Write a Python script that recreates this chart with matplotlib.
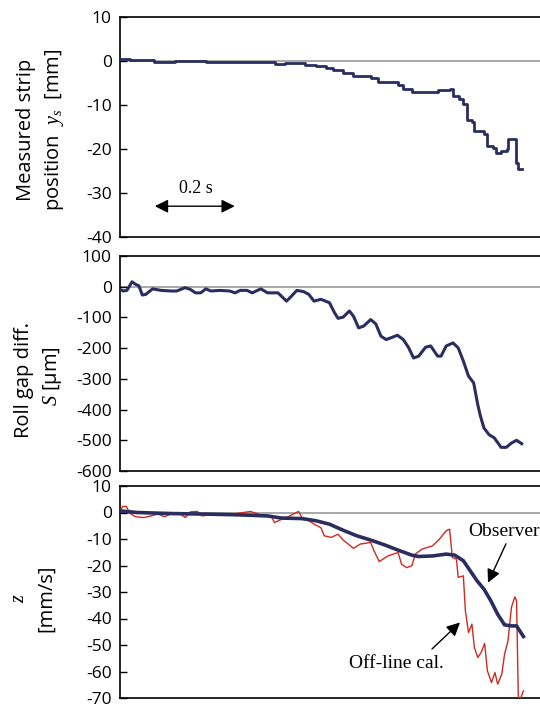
import numpy as np
import matplotlib
matplotlib.use("Agg")
import matplotlib.pyplot as plt

plt.rcParams['font.family'] = ['Open Sans', 'DejaVu Sans']
plt.rcParams['mathtext.fontset'] = 'custom'
plt.rcParams['mathtext.it'] = 'Liberation Serif:italic'
plt.rcParams['mathtext.rm'] = 'Liberation Serif'

# ---- data (time read in zoom-pixel units, converted to seconds below) ----
ys_zx = [350, 380, 450, 510, 575, 600, 700, 780, 800, 830, 870, 890, 920, 950, 970,
         1000, 1030, 1080, 1100, 1160, 1175, 1200, 1260, 1275, 1310, 1320, 1338,
         1350, 1360, 1375, 1380, 1410, 1420, 1435, 1445, 1460, 1478, 1480, 1500,
         1503, 1510, 1520]
ys_val = [0.4, 0.15, -0.15, 0.1, 0.1, -0.15, -0.15, -0.2, -0.75, -0.5, -0.4, -0.8,
          -1.1, -1.7, -2.1, -2.8, -3.4, -3.8, -4.8, -5.5, -6.3, -7.0, -7.0, -6.6,
          -6.3, -8.0, -8.7, -9.8, -13.4, -13.9, -15.9, -16.7, -19.3, -19.7, -20.8,
          -20.5, -20.1, -17.8, -17.8, -23.1, -24.5, -24.5]

s_zx = [350, 360, 370, 385, 395, 405, 415, 425, 445, 470, 500, 515, 540, 555, 570,
        585, 600, 615, 640, 670, 685, 700, 720, 735, 760, 780, 810, 825, 835, 850,
        865, 885, 900, 915, 935, 960, 975, 985, 1000, 1018, 1030, 1045, 1060, 1080,
        1095, 1110, 1125, 1140, 1158, 1175, 1190, 1205, 1220, 1240, 1255, 1275,
        1285, 1300, 1320, 1335, 1350, 1365, 1380, 1392, 1400, 1410, 1425, 1440,
        1460, 1475, 1490, 1505, 1520]
s_val = [-9, -14, -12, 16, 8, 3, -27, -25, -7, -12, -14, -14, -3, -9, -20, -20, -7,
         -14, -12, -14, -20, -12, -12, -20, -7, -20, -20, -36, -47, -30, -12, -16,
         -25, -47, -41, -52, -85, -103, -99, -79, -96, -134, -128, -107, -121, -161,
         -172, -166, -158, -172, -197, -232, -226, -197, -193, -226, -226, -193,
         -183, -199, -242, -291, -313, -384, -422, -460, -482, -492, -523, -523,
         -509, -500, -511]

obs_zx = [350, 400, 500, 600, 700, 780, 820, 880, 920, 960, 1000, 1040, 1080, 1120,
          1160, 1200, 1220, 1260, 1300, 1325, 1350, 1370, 1390, 1410, 1430, 1450,
          1470, 1490, 1505, 1525]
obs_val = [0.6, 0, -0.4, -0.6, -0.9, -1.3, -2.1, -2.3, -3.1, -4.4, -6.7, -8.8,
           -10.4, -12.2, -14.2, -16.1, -16.6, -16.4, -15.7, -16.1, -18.2, -22.0,
           -25.8, -28.9, -33.3, -38.4, -42.4, -42.8, -42.8, -46.8]

off_zx = [350, 358, 368, 380, 395, 420, 440, 460, 480, 500, 520, 540, 555, 575,
          590, 620, 650, 700, 730, 760, 790, 800, 815, 840, 870, 880, 900, 915,
          935, 945, 965, 985, 1000, 1030, 1050, 1080, 1090, 1105, 1130, 1160, 1170,
          1185, 1200, 1210, 1230, 1260, 1280, 1300, 1310, 1318, 1330, 1335, 1350,
          1356, 1365, 1375, 1382, 1392, 1402, 1412, 1420, 1432, 1442, 1450, 1462,
          1470, 1480, 1490, 1500, 1505, 1510, 1514, 1525]
off_val = [0.6, 2.3, 2.3, -0.4, -1.6, -1.9, -1.3, -0.6, -1.6, -0.4, 0.0, -1.9, 0.25,
           0.4, -1.3, -0.6, -0.9, -0.2, 0.4, -0.9, -1.3, -3.8, -2.9, -1.6, 0.4, -1.9,
           -3.1, -4.4, -5.7, -8.8, -9.4, -8.2, -10.4, -13.5, -11.9, -11.3, -14.5,
           -18.5, -16.4, -15.1, -19.5, -20.8, -20.1, -15.7, -13.8, -12.6, -10.1,
           -6.9, -6.3, -17.0, -17.6, -24.5, -23.9, -37.1, -45.3, -42.1, -50.9, -54.7,
           -52.8, -49.4, -59.7, -64.2, -60.4, -64.8, -61.0, -53.5, -48.4, -35.8,
           -31.8, -33.3, -69.2, -71.0, -67.3]

def to_t(zx):
    return (np.asarray(zx, dtype=float) - 350.0) / 1165.0

W, H = 540, 708
fig = plt.figure(figsize=(W / 100, H / 100), dpi=100)

def axes_px(x0, y0, x1, y1):
    return fig.add_axes([x0 / W, 1 - y1 / H, (x1 - x0) / W, (y1 - y0) / H])

XMAX = 1.1
left = 120
right = left + 440

navy = '#2b2d5e'
red = '#cc2b22'

def style(ax, ylim, yticks):
    ax.set_xlim(0, XMAX)
    ax.set_ylim(*ylim)
    ax.set_yticks(yticks)
    ax.set_yticklabels([str(v) for v in yticks])
    ax.set_xticks([])
    ax.tick_params(axis='y', direction='in', length=5, width=1, labelsize=12.5, pad=6)
    for sp in ax.spines.values():
        sp.set_linewidth(1.2)
        sp.set_color('black')
    ax.axhline(0, color='#999999', lw=1.2, zorder=1)

arrow_kw = dict(color='black', lw=1.0, mutation_scale=20, shrinkA=0, shrinkB=0)

# top panel
ax1 = axes_px(left, 17, right, 237)
style(ax1, (-40, 10), [10, 0, -10, -20, -30, -40])
ax1.plot(to_t(ys_zx), ys_val, color=navy, lw=2.0, drawstyle='steps-post', zorder=3)
ax1.annotate('', xy=(0.087, -33), xytext=(0.287, -33),
             arrowprops=dict(arrowstyle='<|-|>', **arrow_kw))
ax1.text(0.19, -29, '0.2 s', family='Liberation Serif', fontsize=13,
         ha='center', va='center')

# middle panel
ax2 = axes_px(left, 256, right, 471)
style(ax2, (-600, 100), [100, 0, -100, -200, -300, -400, -500, -600])
ax2.plot(to_t(s_zx), s_val, color=navy, lw=2.2, zorder=3)

# bottom panel
ax3 = axes_px(left, 486, right, 698)
style(ax3, (-70, 10), [10, 0, -10, -20, -30, -40, -50, -60, -70])
ax3.plot(to_t(off_zx), off_val, color=red, lw=1.0, zorder=3)
ax3.plot(to_t(obs_zx), obs_val, color=navy, lw=2.6, zorder=4)
ax3.text(0.87, -7.0, 'Observer', family='Liberation Serif', fontsize=14,
         ha='left', va='center')
ax3.annotate('', xy=(0.92, -26.5), xytext=(0.965, -11.8),
             arrowprops=dict(arrowstyle='-|>', **arrow_kw))
ax3.text(0.69, -57, 'Off-line cal.', family='Liberation Serif', fontsize=14,
         ha='center', va='center')
ax3.annotate('', xy=(0.85, -41.5), xytext=(0.78, -51.5),
             arrowprops=dict(arrowstyle='-|>', **arrow_kw))

# y labels
def ylab(x, y, s, size=14.5):
    fig.text(x / W, 1 - y / H, s, rotation=90, ha='center', va='center', fontsize=size)

ylab(26, 130, 'Measured strip')
ylab(55, 130, r'position  $y_s$  [mm]')
ylab(24, 380, 'Roll gap diff.')
ylab(53, 376, r'$S$ [μm]')
ylab(19, 598, r'$z$')
ylab(46, 598, '[mm/s]')

fig.savefig('out.png', dpi=100)
